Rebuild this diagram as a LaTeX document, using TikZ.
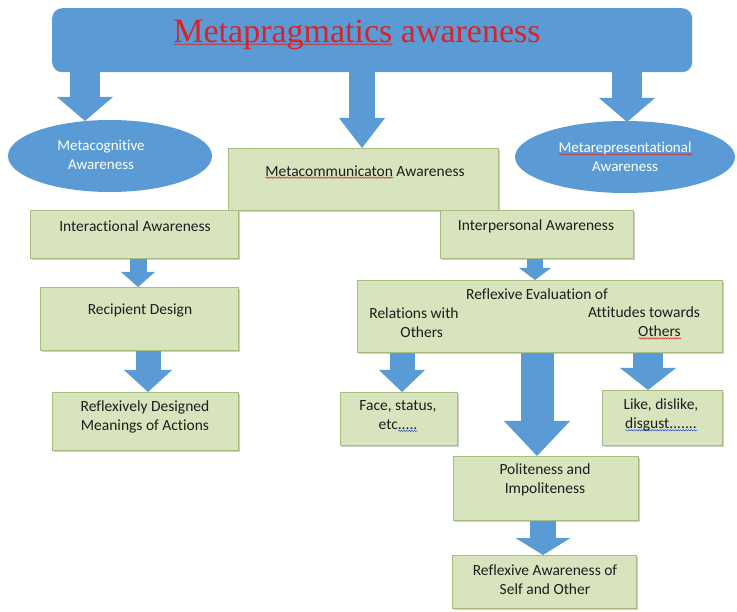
\documentclass[tikz,border=0pt]{standalone}
\usepackage{fontspec}
\setmainfont{Carlito}[Ligatures=NoCommon]
\newfontfamily\titlefont{Liberation Serif}
\usetikzlibrary{shapes.geometric,arrows.meta,shadows,decorations.pathmorphing}
\definecolor{obl}{HTML}{5B9BD5}
\definecolor{gfill}{HTML}{D7E4BD}
\definecolor{gdraw}{HTML}{A9BC7F}
\definecolor{txt}{HTML}{1E1E1E}
\definecolor{ttlred}{HTML}{D8232A}
\definecolor{sqred}{HTML}{E02828}
\definecolor{sqblue}{HTML}{3A5BD8}
\newsavebox\wvbox
\newcommand\wavy[2]{\sbox\wvbox{#2}\leavevmode\rlap{\raisebox{-2.6pt}{\tikz[x=1pt,y=1pt]\draw[#1,line width=0.6pt,decorate,decoration={snake,amplitude=0.6pt,segment length=2.6pt}] (0,0) -- (\the\wd\wvbox,0);}}\usebox\wvbox}
\tikzset{
  gbox/.style={draw=gdraw, line width=0.6pt, fill=gfill, anchor=north west, inner sep=0pt,
    drop shadow={shadow xshift=1.6pt, shadow yshift=-1.8pt, opacity=0.35, fill=black!55}},
  btxt/.style={text=txt, font=\fontsize{15.5}{19}\selectfont, align=center, inner sep=0pt},
  barrow/.style n args={3}{draw=obl, line width=#1pt,
    -{Triangle[width=#2pt, length=#3pt, line width=0pt]}},
  oval/.style={ellipse, fill=obl, text=white, font=\fontsize{15}{19}\selectfont, align=center, inner sep=0pt}
}
\begin{document}
\begin{tikzpicture}[x=1pt,y=-1pt]
\useasboundingbox (0,0) rectangle (737,612);
% title
\node[fill=obl, rounded corners=10pt, anchor=north west, minimum width=640pt, minimum height=64pt, inner sep=0pt] (title) at (52,8) {};
\node[font=\titlefont\fontsize{34}{40}\selectfont, text=ttlred, inner sep=0pt] (ttltext) at (357,35) {\wavy{sqred}{Metapragmatics} awareness};
% ellipses
\node[oval, minimum width=204pt, minimum height=72pt] (cog) at (110,156) {};
\node[text=white, font=\fontsize{15}{19}\selectfont, align=center, inner sep=0pt] (cogt) at (101,155) {Metacognitive\\Awareness};
\node[oval, minimum width=220pt, minimum height=72pt] (rep) at (625,157) {\wavy{sqred}{Metarepresentational}\\Awareness};
% boxes
\node[gbox, minimum width=270pt, minimum height=62pt] (comm) at (228,148) {};
\node[btxt] (commt) at (365,172) {\wavy{sqred}{Metacommunicaton} Awareness};
\node[gbox, minimum width=208pt, minimum height=48pt] (inter) at (30,210) {};
\node[btxt] (intert) at (135,226) {Interactional Awareness};
\node[gbox, minimum width=193pt, minimum height=48pt] (pers) at (440,210) {};
\node[btxt] (perst) at (536,226) {Interpersonal Awareness};
\node[gbox, minimum width=198pt, minimum height=63pt] (recip) at (40,287) {};
\node[btxt] (recipt) at (140,311) {Recipient Design};
\node[gbox, minimum width=186pt, minimum height=58pt] (refd) at (52,392) {};
\node[btxt] (refdt) at (145,417) {Reflexively Designed\\Meanings of Actions};
\node[gbox, minimum width=365pt, minimum height=72pt] (reval) at (357,280) {};
\node[btxt] (revalt) at (537,294) {Reflexive Evaluation of};
\node[btxt] (relt) at (414,323) {Relations with\\\quad Others};
\node[btxt] (attt) at (644,323) {Attitudes towards\\\qquad\wavy{sqred}{Others}};
\node[gbox, minimum width=117pt, minimum height=53pt] (face) at (340,392) {};
\node[btxt] (facet) at (398,416) {Face, status,\\etc\wavy{sqblue}{.....}};
\node[gbox, minimum width=120pt, minimum height=55pt] (like) at (602,390) {};
\node[btxt] (liket) at (661,415) {Like, dislike,\\\wavy{sqblue}{disgust.......}};
\node[gbox, minimum width=185pt, minimum height=64pt] (polite) at (453,456) {};
\node[btxt] (politet) at (545,480) {Politeness and\\Impoliteness};
\node[gbox, minimum width=184pt, minimum height=53pt] (self) at (452,555) {};
\node[btxt] (selft) at (545,580) {Reflexive Awareness of\\Self and Other};
% arrow end points
\coordinate (e1) at (85,121);
\coordinate (e2) at (362,148);
\coordinate (e3) at (627,122);
\coordinate (e4) at (138,287);
\coordinate (e5) at (148,392);
\coordinate (e6) at (535,280);
\coordinate (e7) at (402,392);
\coordinate (e8) at (537,456);
\coordinate (e9) at (648,390);
\coordinate (e10) at (543,555);
% arrows
\draw[barrow={30}{56}{24}] (title.south -| e1) -- (e1);
\draw[barrow={26}{46}{30}] (title.south -| e2) -- (e2);
\draw[barrow={30}{56}{24}] (title.south -| e3) -- (e3);
\draw[barrow={17}{34}{15}] (inter.south -| e4) -- (e4);
\draw[barrow={25}{48}{22}] (recip.south -| e5) -- (e5);
\draw[barrow={16}{32}{12}] (pers.south -| e6) -- (e6);
\draw[barrow={25}{46}{22}] (reval.south -| e7) -- (e7);
\draw[barrow={33}{66}{35}] (reval.south -| e8) -- (e8);
\draw[barrow={30}{56}{22}] (reval.south -| e9) -- (e9);
\draw[barrow={26}{55}{17}] (polite.south -| e10) -- (e10);
\end{tikzpicture}
\end{document}
